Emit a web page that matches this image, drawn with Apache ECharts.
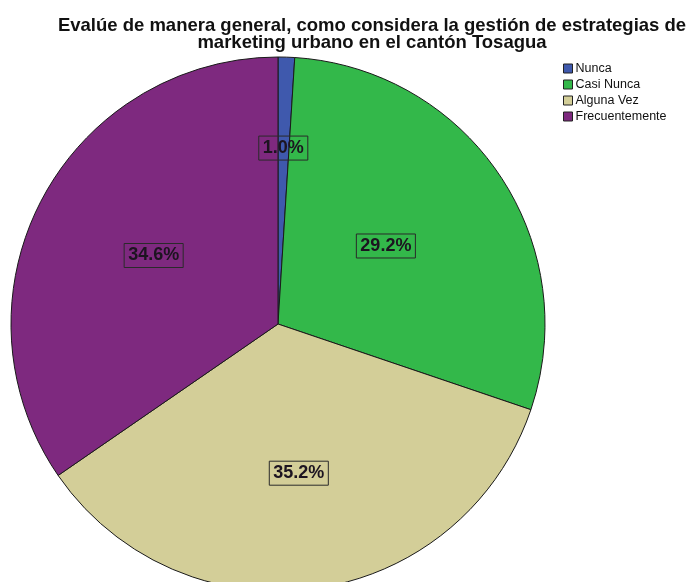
<!DOCTYPE html>
<html>
<head>
<meta charset="utf-8">
<script src="https://cdn.jsdelivr.net/npm/echarts@6/dist/echarts.min.js"></script>
<style>
  html, body { margin: 0; padding: 0; background: #ffffff; }
  #chart { width: 696px; height: 582px; }
</style>
</head>
<body>
<div id="chart"></div>
<script>
// Response categories and their share of answers (%)
const categories = ['Nunca', 'Casi Nunca', 'Alguna Vez', 'Frecuentemente'];
const percentages = [1.0, 29.2, 35.2, 34.6];
const sliceColors = ['#3f59ad', '#33b84a', '#d3ce98', '#7e297f'];
// Nudges for the value boxes inside the slices
const labelOffsets = [[1, -39.5], [-5.5, -2], [2, 14], [-3.5, -5]];

const chart = echarts.init(document.getElementById('chart'), null, { renderer: 'canvas' });

const data = categories.map((name, i) => ({
  name: name,
  value: percentages[i],
  itemStyle: { color: sliceColors[i] },
  label: { offset: labelOffsets[i] }
}));

chart.setOption({
  animation: false,
  backgroundColor: '#ffffff',
  title: {
    text: 'Evalúe de manera general, como considera la gestión de estrategias de\nmarketing urbano en el cantón Tosagua',
    left: 367,
    top: 12,
    textAlign: 'center',
    textStyle: {
      fontFamily: 'Liberation Sans, Arial, sans-serif',
      fontSize: 18.5,
      fontWeight: 'bold',
      color: '#111111',
      lineHeight: 17
    }
  },
  legend: {
    orient: 'vertical',
    left: 563,
    top: 62,
    padding: 0,
    itemWidth: 9,
    itemHeight: 9,
    itemGap: 3,
    icon: 'rect',
    selectedMode: false,
    data: categories,
    itemStyle: { borderColor: '#222222', borderWidth: 1 },
    textStyle: {
      fontFamily: 'Liberation Sans, Arial, sans-serif',
      fontSize: 12.5,
      lineHeight: 12.5,
      color: '#111111',
      padding: [0, 0, 0, -2]
    }
  },
  series: [{
    type: 'pie',
    center: [278, 324],
    radius: [0, 267],
    startAngle: 90,
    clockwise: true,
    avoidLabelOverlap: false,
    data: data,
    itemStyle: { borderColor: '#1a1a1a', borderWidth: 1 },
    labelLine: { show: false },
    emphasis: { disabled: true },
    label: {
      show: true,
      position: 'inside',
      formatter: (p) => p.value.toFixed(1) + '%',
      fontFamily: 'Liberation Sans, Arial, sans-serif',
      fontSize: 18,
      fontWeight: 'bold',
      color: '#1c1420',
      borderColor: '#2a2a2a',
      borderWidth: 1,
      padding: [4, 4, 2, 4]
    }
  }]
});
</script>
</body>
</html>
